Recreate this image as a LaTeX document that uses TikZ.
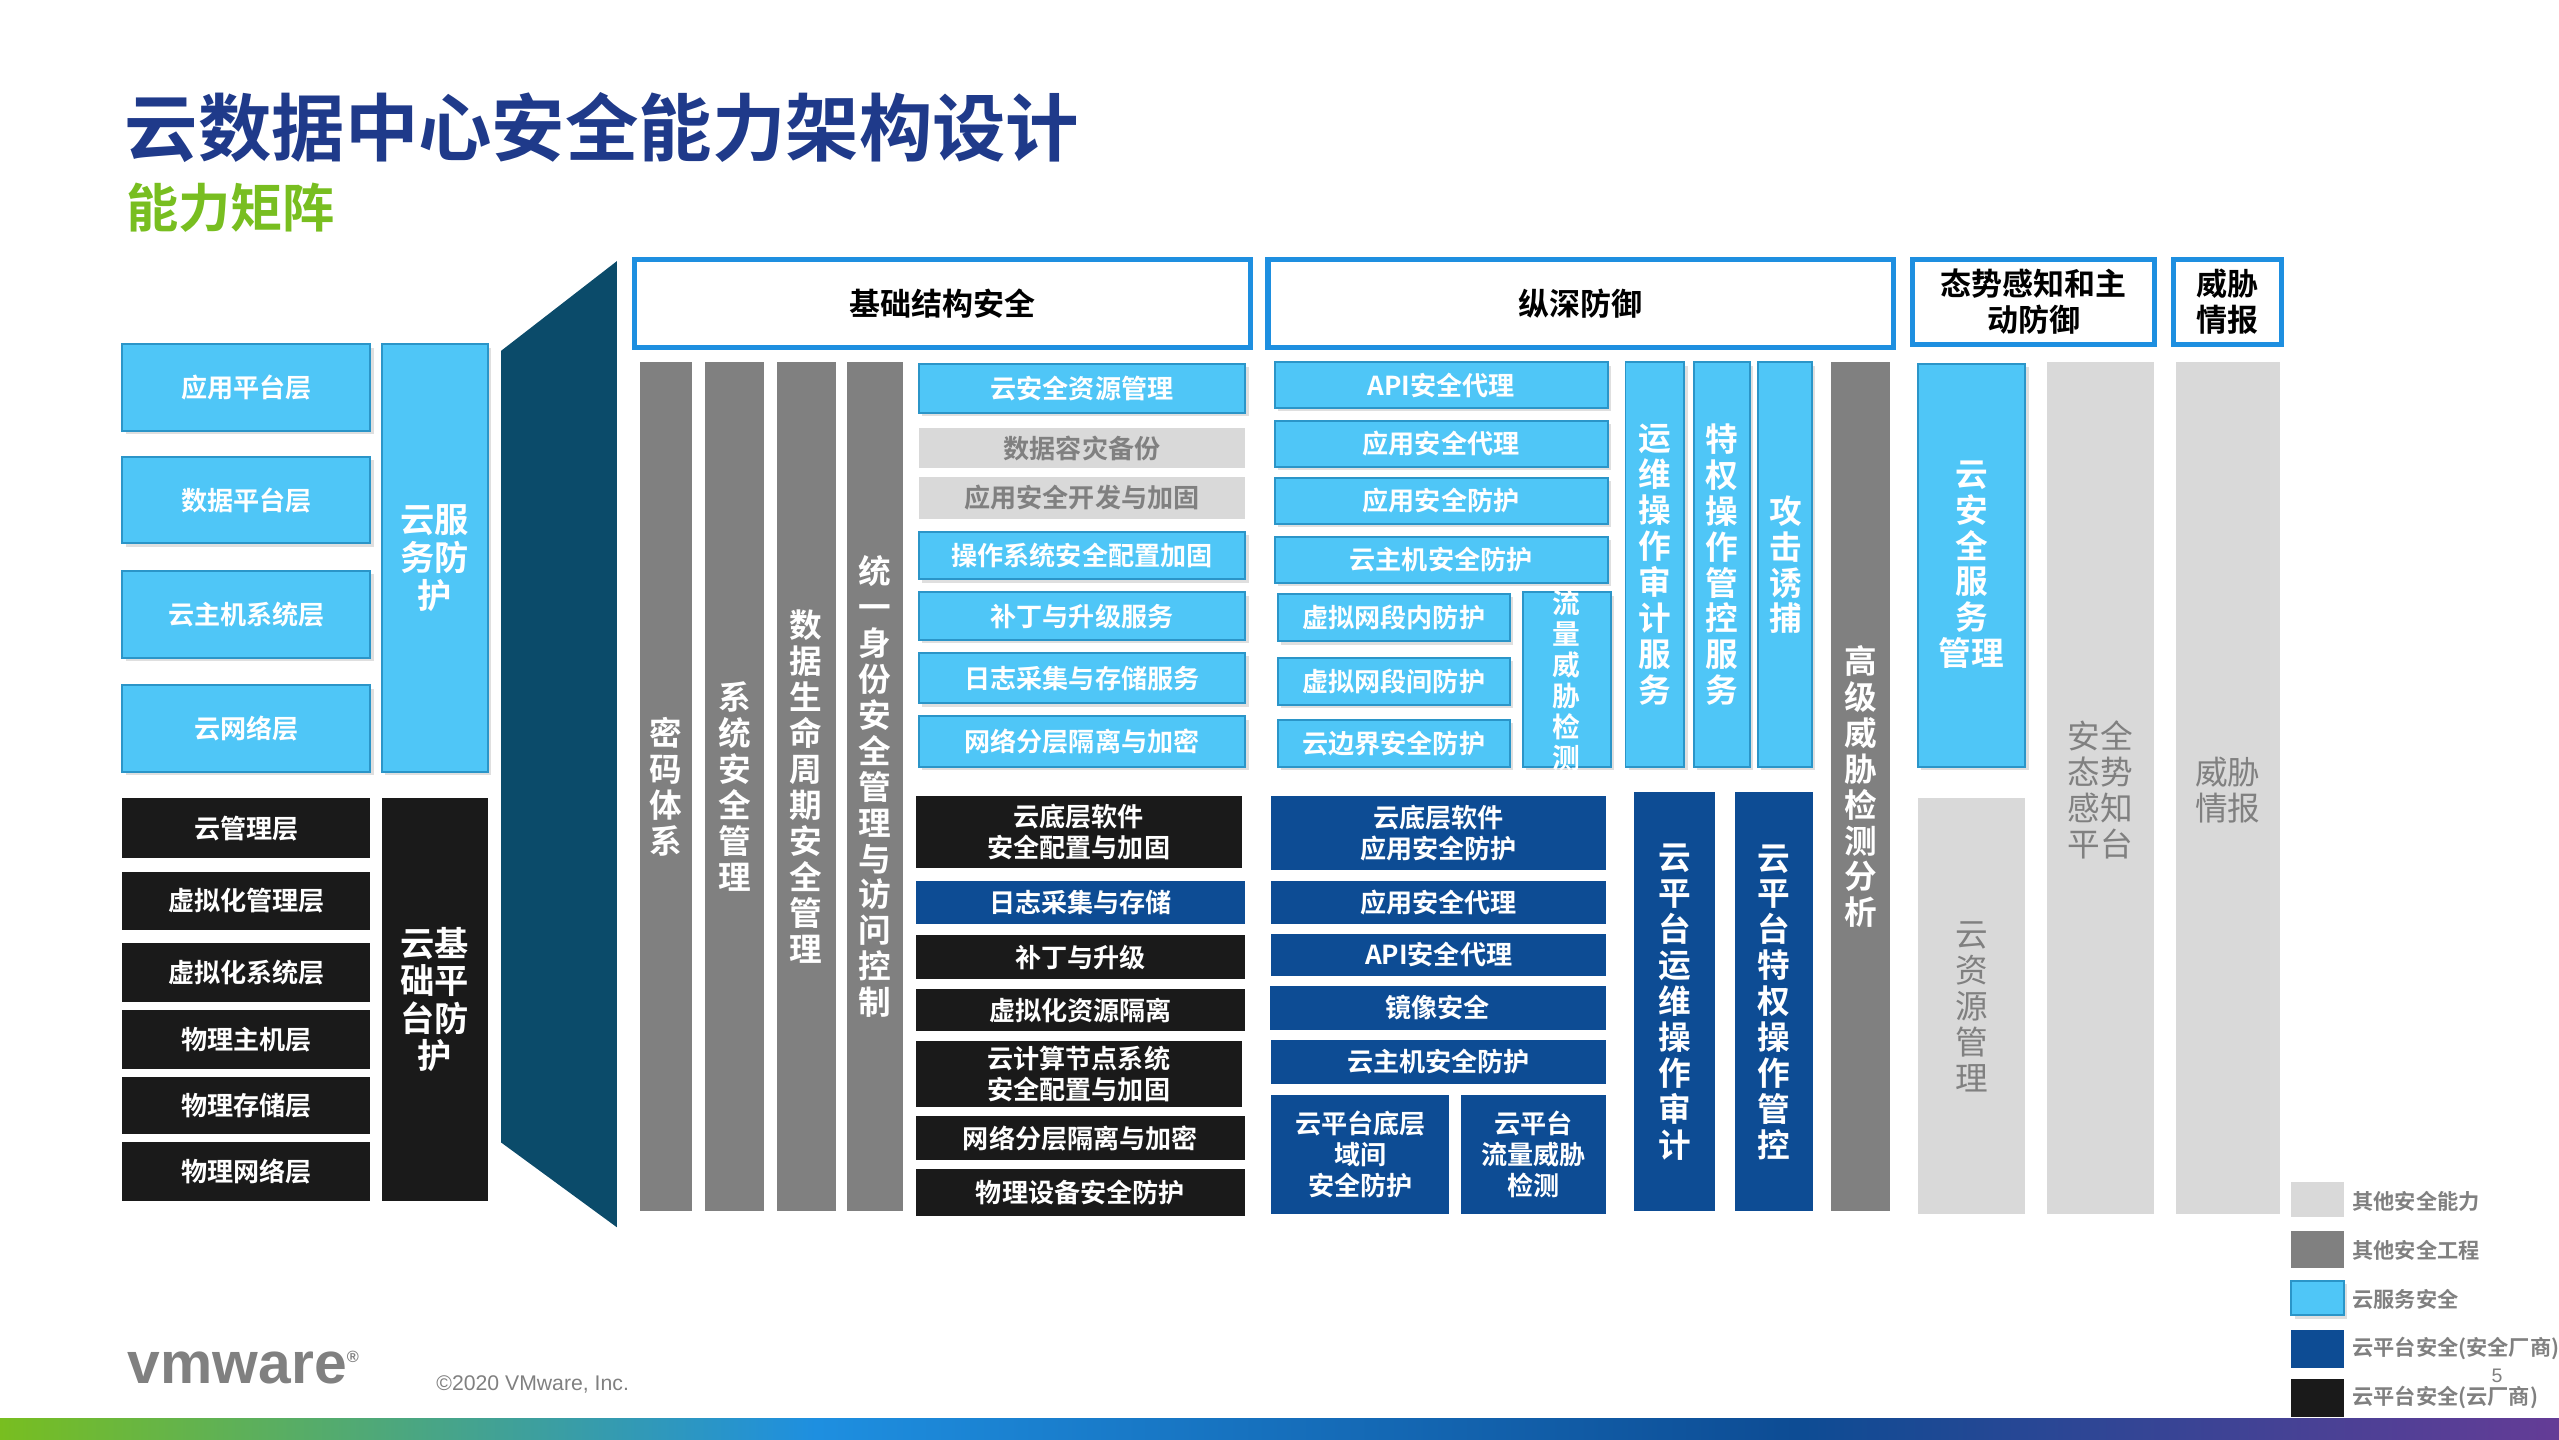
\documentclass[tikz,border=0pt]{standalone}
\usepackage{fontspec}
\setmainfont{Noto Sans CJK SC}
\newfontfamily\cjkb{Noto Sans CJK SC Bold}
\newfontfamily\lat{Liberation Sans}
\usetikzlibrary{shadows}
\definecolor{cy}{HTML}{4FC6F7}
\definecolor{cyd}{HTML}{2B95C8}
\definecolor{gr}{HTML}{808080}
\definecolor{lg}{HTML}{D9D9D9}
\definecolor{db}{HTML}{0D4C94}
\definecolor{bk}{HTML}{1A1A1A}
\definecolor{tl}{HTML}{0B4B6A}
\definecolor{ttl}{HTML}{1F3A8A}
\definecolor{grn}{HTML}{78BE20}
\definecolor{hb}{HTML}{1E8FE0}
\tikzset{
 base/.style={inner sep=0pt,align=center,font=\cjkb\fontsize{8pt}{9.5pt}\selectfont,text=white},
 cb/.style={base,fill=cy,draw=cyd,line width=0.6pt,drop shadow={opacity=0.25,shadow xshift=1pt,shadow yshift=-1pt}},
 gb/.style={base,fill=gr},
 lb/.style={base,fill=lg,text=gr},
 dbb/.style={base,fill=db},
 kb/.style={base,fill=bk},
 big/.style={font=\cjkb\fontsize{10.5pt}{11.5pt}\selectfont},
 hdr/.style={base,draw=hb,line width=1.6pt,fill=white,text=black,font=\cjkb\fontsize{9.5pt}{11pt}\selectfont},
 vt/.style={font=\cjkb\fontsize{10pt}{11pt}\selectfont},
 lgt/.style={font=\cjkb\fontsize{6.5pt}{7pt}\selectfont,text=gr,anchor=west,inner sep=0pt},
}
% style,name,x1,y1,x2,y2,text
\newcommand\bx[7]{\node[#1,minimum width={(#5-#3)*0.5pt},minimum height={(#6-#4)*0.5pt}] (#2) at ({(#3+#5)/2},{(#4+#6)/2}) {#7};}
\begin{document}
\begin{tikzpicture}[x=0.5pt,y=-0.5pt]
\useasboundingbox (0,0) rectangle (1568,882);
\node[anchor=west,text=ttl,font=\cjkb\fontsize{22.5pt}{24pt}\selectfont,inner sep=0pt] (title) at (76,78) {云数据中心安全能力架构设计};
\node[anchor=west,text=grn,font=\cjkb\fontsize{16pt}{18pt}\selectfont,inner sep=0pt] (sub) at (77,127) {能力矩阵};
% left
\bx{cb}{l1}{75}{211}{227}{264}{应用平台层}
\bx{cb}{l2}{75}{280}{227}{333}{数据平台层}
\bx{cb}{l3}{75}{350}{227}{403}{云主机系统层}
\bx{cb}{l4}{75}{420}{227}{473}{云网络层}
\bx{cb,big}{lv1}{234}{211}{299}{473}{云服\\务防\\护}
\bx{kb}{k1}{75}{489}{227}{526}{云管理层}
\bx{kb}{k2}{75}{534}{227}{570}{虚拟化管理层}
\bx{kb}{k3}{75}{578}{227}{614}{虚拟化系统层}
\bx{kb}{k4}{75}{619}{227}{655}{物理主机层}
\bx{kb}{k5}{75}{660}{227}{695}{物理存储层}
\bx{kb}{k6}{75}{700}{227}{736}{物理网络层}
\bx{kb,big}{lv2}{234}{489}{299}{736}{云基\\础平\\台防\\护}
\fill[tl] (307,215) -- (378,160) -- (378,752) -- (307,700) -- cycle;
% headers
\bx{hdr}{h1}{389}{159}{766}{213}{基础结构安全}
\bx{hdr}{h2}{777}{159}{1160}{213}{纵深防御}
\bx{hdr}{h3}{1172}{159}{1320}{211}{态势感知和主\\动防御}
\bx{hdr}{h4}{1332}{159}{1398}{211}{威胁\\情报}
% gray columns
\bx{gb}{g1}{392}{222}{424}{742}{}
\node[vt,text=white,align=center] at (408,482) {密\\码\\体\\系};
\bx{gb}{g2}{432}{222}{468}{742}{}
\node[vt,text=white,align=center] at (450,482) {系\\统\\安\\全\\管\\理};
\bx{gb}{g3}{476}{222}{512}{742}{}
\node[vt,text=white,align=center] at (494,482) {数\\据\\生\\命\\周\\期\\安\\全\\管\\理};
\bx{gb}{g4}{519}{222}{553}{742}{}
\node[vt,text=white,align=center] at (536,482) {统\\一\\身\\份\\安\\全\\管\\理\\与\\访\\问\\控\\制};
% column 2
\bx{cb}{a1}{563}{223}{763}{253}{云安全资源管理}
\bx{lb}{a2}{563}{262}{763}{287}{数据容灾备份}
\bx{lb}{a3}{563}{292}{763}{318}{应用安全开发与加固}
\bx{cb}{a4}{563}{326}{763}{355}{操作系统安全配置加固}
\bx{cb}{a5}{563}{363}{763}{392}{补丁与升级服务}
\bx{cb}{a6}{563}{400}{763}{431}{日志采集与存储服务}
\bx{cb}{a7}{563}{439}{763}{470}{网络分层隔离与加密}
\bx{kb}{a8}{561}{488}{761}{532}{云底层软件\\安全配置与加固}
\bx{dbb}{a9}{561}{540}{763}{566}{日志采集与存储}
\bx{kb}{a10}{561}{573}{763}{600}{补丁与升级}
\bx{kb}{a11}{561}{606}{763}{632}{虚拟化资源隔离}
\bx{kb}{a12}{561}{638}{761}{678}{云计算节点系统\\安全配置与加固}
\bx{kb}{a13}{561}{684}{763}{711}{网络分层隔离与加密}
\bx{kb}{a14}{561}{716}{763}{745}{物理设备安全防护}
% column 3
\bx{cb}{b1}{781}{222}{985}{250}{API安全代理}
\bx{cb}{b2}{781}{258}{985}{286}{应用安全代理}
\bx{cb}{b3}{781}{293}{985}{321}{应用安全防护}
\bx{cb}{b4}{781}{329}{985}{357}{云主机安全防护}
\bx{cb}{b5}{783}{364}{925}{393}{虚拟网段内防护}
\bx{cb}{b6}{783}{403}{925}{432}{虚拟网段间防护}
\bx{cb}{b7}{783}{441}{925}{470}{云边界安全防护}
\bx{cb}{b8}{933}{363}{987}{470}{}
\node[vt,text=white,align=center,font=\cjkb\fontsize{8.5pt}{9.5pt}\selectfont] at (960,417) {流\\量\\威\\胁\\检\\测};
\bx{dbb}{b9}{779}{488}{984}{533}{云底层软件\\应用安全防护}
\bx{dbb}{b10}{779}{540}{984}{566}{应用安全代理}
\bx{dbb}{b11}{779}{572}{984}{598}{API安全代理}
\bx{dbb}{b12}{778}{604}{984}{631}{镜像安全}
\bx{dbb}{b13}{779}{637}{984}{664}{云主机安全防护}
\bx{dbb}{b14}{779}{671}{888}{744}{云平台底层\\域间\\安全防护}
\bx{dbb}{b15}{895}{671}{984}{744}{云平台\\流量威胁\\检测}
% verticals
\bx{cb}{c1}{996}{222}{1032}{470}{}
\node[vt,text=white,align=center] at (1014,346) {运\\维\\操\\作\\审\\计\\服\\务};
\bx{cb}{c2}{1038}{222}{1072}{470}{}
\node[vt,text=white,align=center] at (1055,346) {特\\权\\操\\作\\管\\控\\服\\务};
\bx{cb}{c3}{1077}{222}{1110}{470}{}
\node[vt,text=white,align=center] at (1094,346) {攻\\击\\诱\\捕};
\bx{dbb}{c4}{1001}{485}{1051}{742}{}
\node[vt,text=white,align=center] at (1026,614) {云\\平\\台\\运\\维\\操\\作\\审\\计};
\bx{dbb}{c5}{1063}{485}{1111}{742}{}
\node[vt,text=white,align=center] at (1087,614) {云\\平\\台\\特\\权\\操\\作\\管\\控};
\bx{gb}{c6}{1122}{222}{1158}{742}{}
\node[vt,text=white,align=center] at (1140,482) {高\\级\\威\\胁\\检\\测\\分\\析};
% right
\bx{cb}{d1}{1175}{223}{1241}{470}{}
\node[vt,text=white,align=center] at (1208,346) {云\\安\\全\\服\\务\\管理};
\bx{lb}{d2}{1175}{489}{1241}{744}{}
\node[vt,text=gr,align=center,font=\fontsize{10pt}{11pt}\selectfont] at (1208,617) {云\\资\\源\\管\\理};
\bx{lb}{d3}{1254}{222}{1320}{744}{}
\node[vt,text=gr,align=center,font=\fontsize{10pt}{11pt}\selectfont] at (1287,484) {安全\\态势\\感知\\平台};
\bx{lb}{d4}{1333}{222}{1397}{744}{}
\node[vt,text=gr,align=center,font=\fontsize{10pt}{11pt}\selectfont] at (1365,484) {威胁\\情报};
% legend
\bx{lb}{e1}{1404}{724}{1436}{746}{}
\node[lgt] at (1441,736) {其他安全能力};
\bx{gb}{e2}{1404}{754}{1436}{777}{}
\node[lgt] at (1441,766) {其他安全工程};
\bx{cb}{e3}{1404}{785}{1436}{806}{}
\node[lgt] at (1441,796) {云服务安全};
\bx{dbb}{e4}{1404}{815}{1436}{838}{}
\node[lgt] at (1441,826) {云平台安全(安全厂商)};
\bx{kb}{e5}{1404}{845}{1436}{868}{}
\node[lgt] at (1441,856) {云平台安全(云厂商)};
\node[font=\lat\fontsize{6pt}{7pt}\selectfont,text=gr] (pg) at (1530,843) {5};
% footer
\node[anchor=west,inner sep=0pt,text=gr,font=\lat\bfseries\fontsize{18pt}{20pt}\selectfont] (vm) at (78,838) {vmware\textsuperscript{\tiny ®}};
\node[anchor=west,inner sep=0pt,text=gr,font=\lat\fontsize{6.5pt}{8pt}\selectfont] (cp) at (267,848) {©2020 VMware, Inc.};
\shade[left color=grn,right color=hb] (0,869) rectangle (500,882);
\shade[left color=hb,right color=db] (500,869) rectangle (1100,882);
\shade[left color=db,right color={rgb,255:red,100;green,60;blue,150}] (1100,869) rectangle (1568,882);
\end{tikzpicture}
\end{document}
